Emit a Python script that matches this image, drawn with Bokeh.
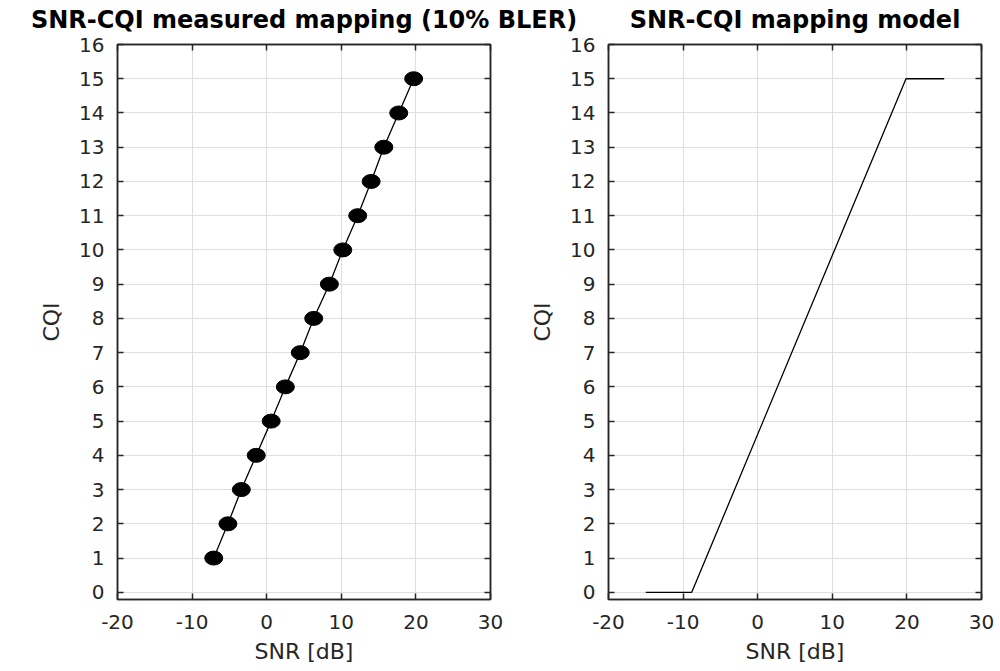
from bokeh.plotting import figure
from bokeh.layouts import column, row
from bokeh.models import Range1d, LinearAxis, FixedTicker, CustomLabelingPolicy
from bokeh.core.properties import value
from bokeh.embed import file_html
from bokeh.resources import INLINE

# ---- data ----
titles = ["SNR-CQI measured mapping (10% BLER)", "SNR-CQI mapping model"]
x_label = "SNR [dB]"
y_label = "CQI"
x_ticks = [-20, -10, 0, 10, 20, 30]
x_tick_labels = ["-20", "-10", "0", "10", "20", "30"]
y_ticks = [0, 1, 2, 3, 4, 5, 6, 7, 8, 9, 10, 11, 12, 13, 14, 15, 16]

snr_measured = [-7.1, -5.2, -3.4, -1.4, 0.6, 2.5, 4.5, 6.3, 8.4, 10.2, 12.2, 14.0, 15.7, 17.7, 19.7]
cqi_measured = [1, 2, 3, 4, 5, 6, 7, 8, 9, 10, 11, 12, 13, 14, 15]

snr_model = [-15, -8.84, 19.88, 25]
cqi_model = [0, 0, 15, 15]

# ---- style / layout ----
FONT = "DejaVu Sans"
AX = "#262626"
GRID = "#dfdfdf"
STRIP_H = 34
ROW_H = 636
LEFT_W = 525
RIGHT_W = 471
LEFT_BL, LEFT_BR = 117, 35
RIGHT_BL, RIGHT_BR = 83, 15
TOP_B = 10
BOT_B = 71

hide_labels = CustomLabelingPolicy(code="""
try { for (let i = 0; i < indices.size; i++) indices.unset(i); } catch (e) {}
return indices
""")


def mirror_axis(ticks):
    return LinearAxis(ticker=FixedTicker(ticks=ticks), major_label_text_font_size="0px",
                      major_label_policy=hide_labels,
                      major_label_standoff=0, major_tick_in=6, major_tick_out=0,
                      major_tick_line_color=AX, major_tick_line_width=1.5,
                      minor_tick_line_color=None, axis_line_color=AX, axis_line_width=1.5)


def make_panel(width, border_left, border_right):
    p = figure(width=width, height=ROW_H, output_backend="svg", toolbar_location=None,
               x_range=Range1d(-20, 30), y_range=Range1d(-0.21, 16),
               min_border_left=border_left, min_border_right=border_right,
               min_border_top=TOP_B, min_border_bottom=BOT_B)
    p.background_fill_color = "white"
    p.border_fill_color = "white"
    p.outline_line_color = AX
    p.outline_line_width = 1.5
    p.xaxis.ticker = FixedTicker(ticks=x_ticks)
    p.yaxis.ticker = FixedTicker(ticks=y_ticks)
    p.xaxis.major_label_overrides = {float(t): s for t, s in zip(x_ticks, x_tick_labels)}
    for ax in (p.xaxis, p.yaxis):
        ax.axis_line_color = AX
        ax.axis_line_width = 1.5
        ax.major_tick_line_color = AX
        ax.major_tick_line_width = 1.5
        ax.major_tick_in = 6
        ax.major_tick_out = 0
        ax.minor_tick_line_color = None
        ax.major_label_text_font = FONT
        ax.major_label_text_font_size = "20px"
        ax.major_label_text_color = AX
        ax.axis_label_text_font = FONT
        ax.axis_label_text_font_size = "22px"
        ax.axis_label_text_font_style = "normal"
        ax.axis_label_text_color = AX
    p.xaxis.major_label_standoff = 15
    p.xaxis.axis_label_standoff = 7
    p.yaxis.major_label_standoff = 13
    p.yaxis.axis_label_standoff = 12
    p.xaxis.axis_label = x_label
    p.yaxis.axis_label = y_label
    p.add_layout(mirror_axis(x_ticks), "above")
    p.add_layout(mirror_axis(y_ticks), "right")
    p.xgrid.ticker = FixedTicker(ticks=x_ticks)
    p.ygrid.ticker = FixedTicker(ticks=y_ticks)
    p.grid.grid_line_color = GRID
    p.grid.grid_line_width = 1
    return p


left = make_panel(LEFT_W, LEFT_BL, LEFT_BR)
left.line(snr_measured, cqi_measured, line_color="black", line_width=1.3)
left.ellipse(x=snr_measured, y=cqi_measured, width=18, height=14,
             width_units="screen", height_units="screen",
             fill_color="black", line_color="black")

right = make_panel(RIGHT_W, RIGHT_BL, RIGHT_BR)
right.line(snr_model, cqi_model, line_color="black", line_width=1.3)

# title strip (the left title is wider than its panel, so titles live in their own strip)
STRIP_W = LEFT_W + RIGHT_W
strip = figure(width=STRIP_W, height=STRIP_H, output_backend="svg", toolbar_location=None,
               x_range=Range1d(0, STRIP_W), y_range=Range1d(0, STRIP_H),
               x_axis_type=None, y_axis_type=None, min_border=0)
strip.title = None
strip.outline_line_color = None
strip.background_fill_color = "white"
strip.border_fill_color = "white"
left_center = LEFT_BL + (LEFT_W - LEFT_BL - LEFT_BR) / 2
right_center = LEFT_W + RIGHT_BL + (RIGHT_W - RIGHT_BL - RIGHT_BR) / 2
strip.text(x=[left_center, right_center], y=[STRIP_H - 19, STRIP_H - 19], text=titles,
           text_align="center", text_baseline="middle",
           text_font=value(FONT), text_font_style="bold", text_font_size="24px",
           text_color="black")

layout = column(strip, row(left, right))
open("out.html", "w").write(file_html(layout, INLINE))
